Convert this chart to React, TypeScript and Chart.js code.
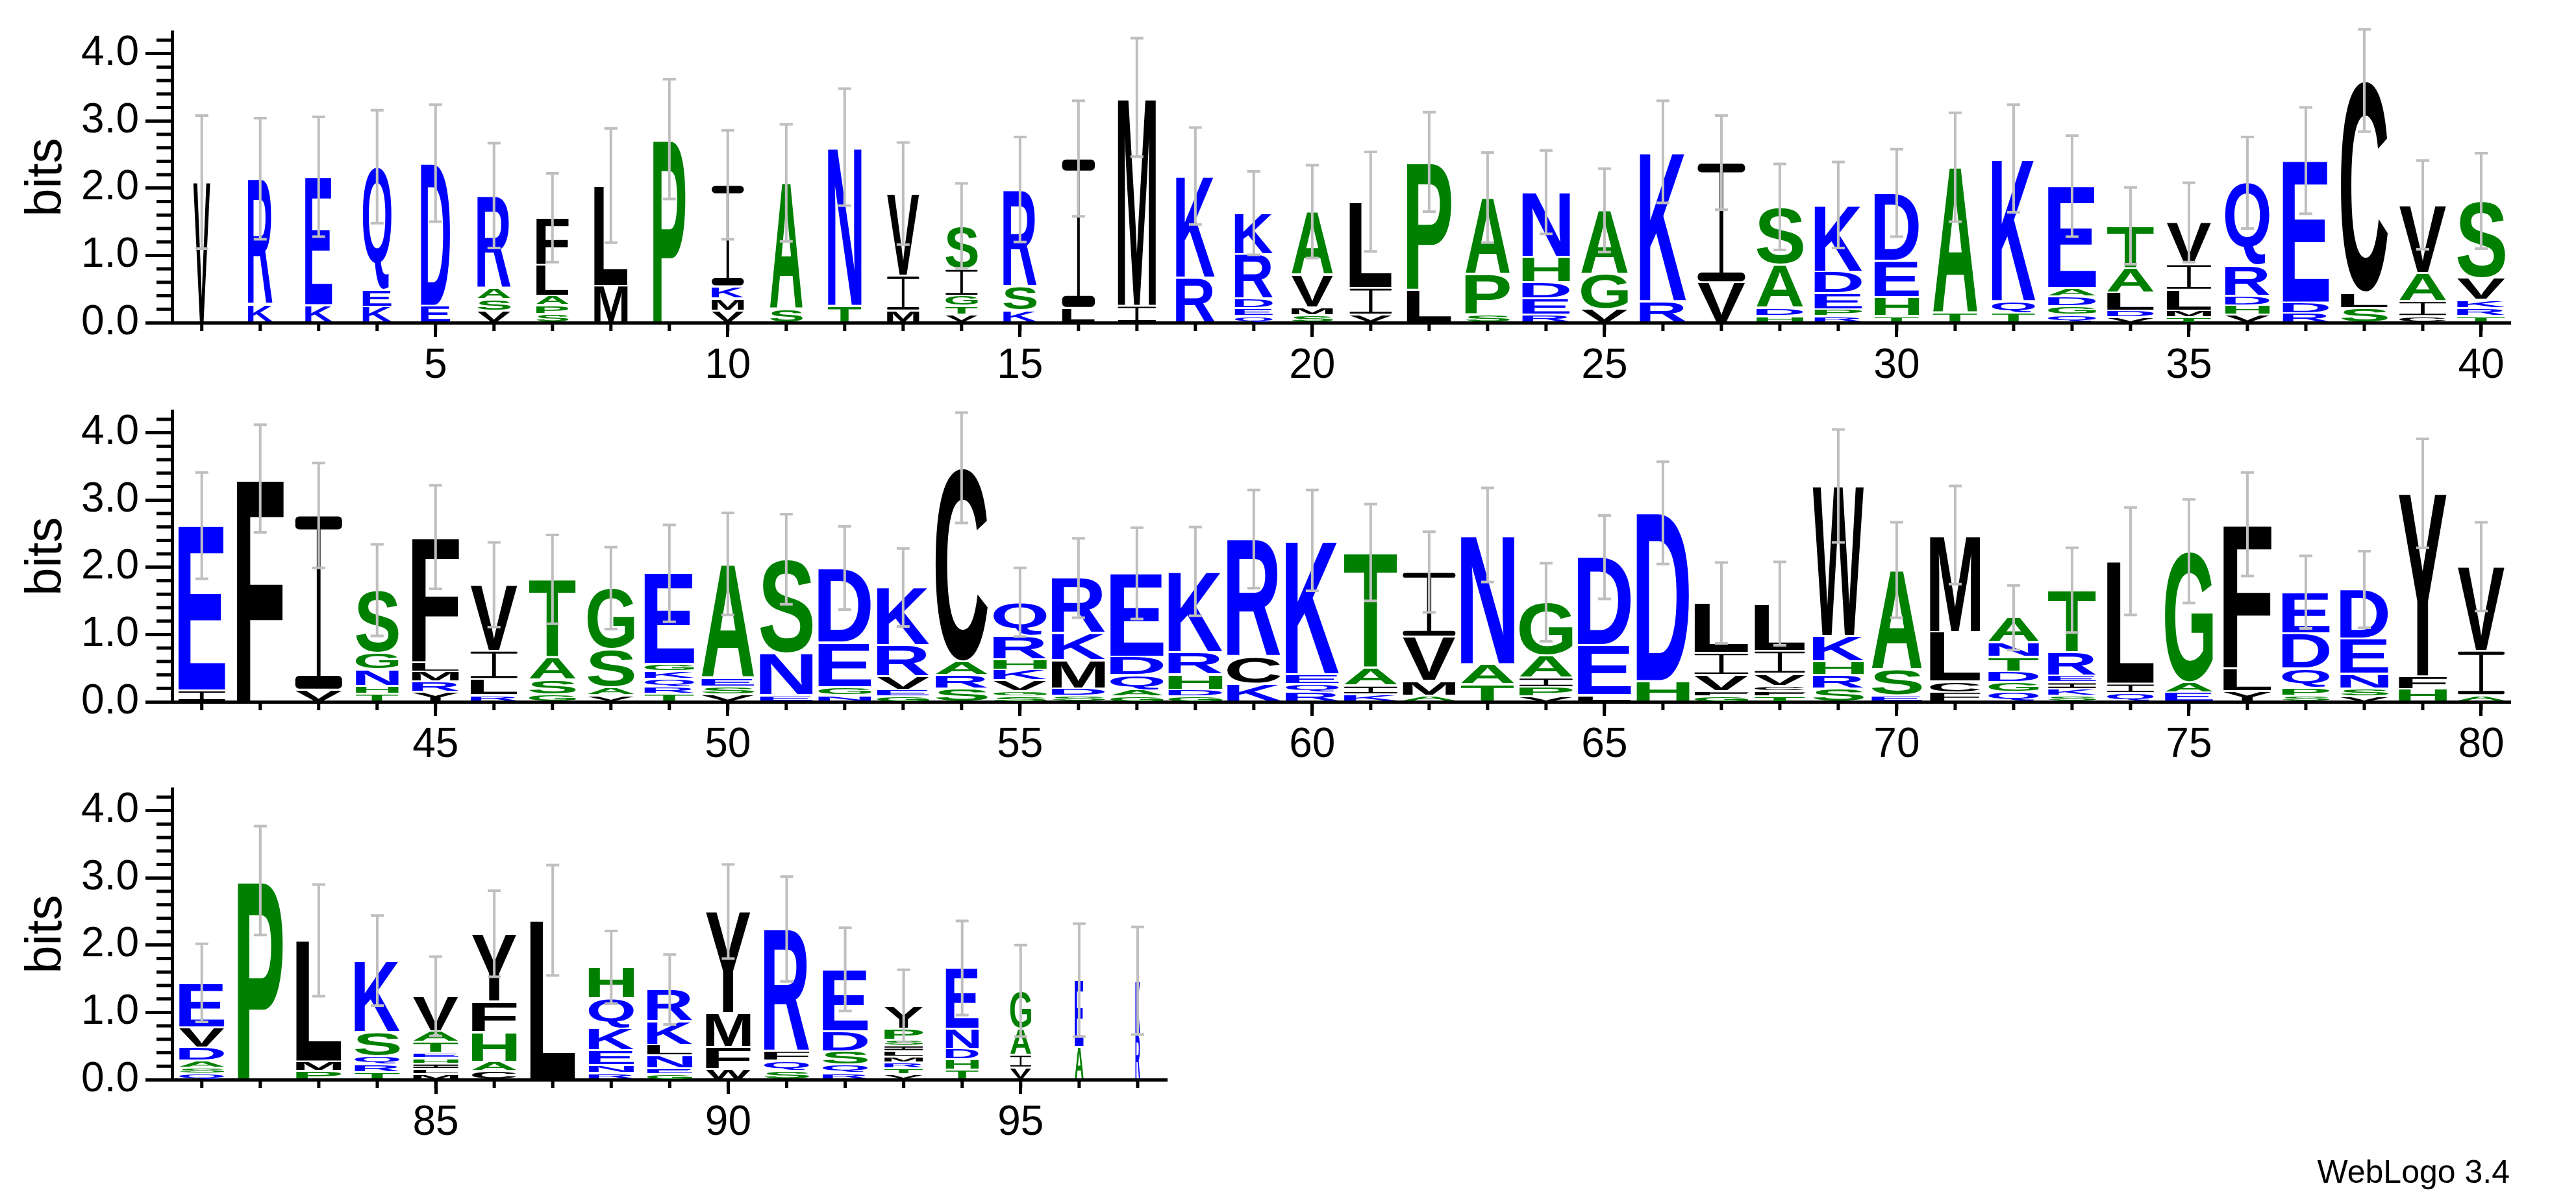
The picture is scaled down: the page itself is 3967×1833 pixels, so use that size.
import React, { useEffect, useRef } from "react";
import { Chart, registerables } from "chart.js";

Chart.register(...registerables);

// ---------- DATA ----------
const positions: number[] = [
  1, 2, 3, 4, 5, 6, 7, 8, 9, 10, 11, 12, 13, 14, 15, 16, 17, 18, 19, 20,
  21, 22, 23, 24, 25, 26, 27, 28, 29, 30, 31, 32, 33, 34, 35, 36, 37, 38, 39, 40,
  41, 42, 43, 44, 45, 46, 47, 48, 49, 50, 51, 52, 53, 54, 55, 56, 57, 58, 59, 60,
  61, 62, 63, 64, 65, 66, 67, 68, 69, 70, 71, 72, 73, 74, 75, 76, 77, 78, 79, 80,
  81, 82, 83, 84, 85, 86, 87, 88, 89, 90, 91, 92, 93, 94, 95, 96, 97,
];

// letters of each column, bottom to top
const stackLetters: string[] = [
  "V", "KR", "KE", "KEQ", "ED", "VSAR", "SPALF", "ML", "P", "VMKI",
  "SA", "TN", "MIV", "VTGIS", "KSR", "LI", "IM", "RK", "QEDRK", "SMVA",
  "VIL", "LP", "SPA", "REDHN", "VGA", "RK", "VI", "HDAS", "RPEDK", "THED",
  "TA", "TQK", "QGDAE", "VDLAT", "TMLIV", "VHDRQ", "RDE", "SLC", "CIAV", "TRKVS",
  "IE", "F", "VI", "THNGS", "YRMLF", "RLIV", "GSAT", "VASG", "TRQKGE", "VSEA",
  "ENS", "NGED", "GEVRK", "SRAC", "SGVKHRQ", "SDMKR", "GAQDE", "GDHRK", "KCR", "RQEK",
  "KIAT", "AMVI", "TAN", "VPIAG", "LED", "HD", "GFVIL", "TFCVIL", "SRHKW", "ESA",
  "FCLM", "QGDTNA", "SKIERT", "QIL", "EAG", "YLF", "SPQDE", "VSNED", "HFY", "AIV",
  "QSADVE", "P", "PML", "TRQSK", "MLIHETAV", "CAHFY", "L", "RNEKQH", "GENLKR", "WFMY",
  "SQFR", "RQSDE", "VTRMLISPY", "THDNE", "VIAG", "AE", "RK",
];

// bits of each letter, bottom to top
const stackHeights: number[][] = [
  [2.09], [0.27, 1.87], [0.26, 1.91], [0.24, 0.25, 1.83], [0.25, 2.12],
  [0.18, 0.17, 0.17, 1.37], [0.13, 0.13, 0.14, 0.46, 0.7], [0.55, 1.49], [2.73], [0.18, 0.18, 0.18, 1.51],
  [0.2, 1.88], [0.25, 2.36], [0.18, 0.52, 1.22], [0.12, 0.13, 0.15, 0.4, 0.64], [0.18, 0.36, 1.44],
  [0.22, 2.22], [0.25, 3.1], [0.67, 1.51], [0.1, 0.12, 0.14, 0.66, 0.61], [0.11, 0.12, 0.48, 0.94],
  [0.12, 0.4, 1.28], [0.49, 1.9], [0.12, 0.6, 1.14], [0.12, 0.24, 0.24, 0.38, 0.96], [0.2, 0.52, 0.95],
  [0.32, 2.22], [0.6, 1.78], [0.1, 0.12, 0.64, 0.86], [0.1, 0.1, 0.24, 0.32, 0.99], [0.1, 0.28, 0.54, 1.01],
  [0.14, 2.17], [0.14, 0.18, 2.12], [0.12, 0.13, 0.14, 0.13, 1.51], [0.08, 0.1, 0.27, 0.37, 0.62], [0.08, 0.1, 0.31, 0.38, 0.62],
  [0.12, 0.14, 0.14, 0.45, 1.23], [0.14, 0.16, 2.11], [0.22, 0.23, 3.15], [0.1, 0.22, 0.42, 1.01], [0.1, 0.12, 0.12, 0.32, 1.15],
  [0.17, 2.45], [3.32], [0.18, 2.59], [0.12, 0.12, 0.24, 0.25, 0.93], [0.15, 0.15, 0.15, 0.14, 1.86],
  [0.1, 0.24, 0.42, 0.98], [0.11, 0.22, 0.33, 1.16], [0.1, 0.12, 0.56, 0.91], [0.12, 0.1, 0.12, 0.12, 0.1, 1.35], [0.11, 0.12, 0.13, 1.69],
  [0.1, 0.62, 1.4], [0.1, 0.12, 0.66, 1.11], [0.08, 0.1, 0.2, 0.46, 0.86], [0.2, 0.2, 0.2, 2.88], [0.08, 0.08, 0.16, 0.16, 0.15, 0.35, 0.5],
  [0.09, 0.11, 0.42, 0.4, 0.82], [0.08, 0.1, 0.22, 0.27, 1.24], [0.08, 0.1, 0.23, 0.33, 1.2], [0.27, 0.4, 1.75], [0.14, 0.13, 0.14, 1.99],
  [0.11, 0.13, 0.27, 1.71], [0.09, 0.22, 0.66, 0.96], [0.26, 0.3, 1.92], [0.08, 0.14, 0.14, 0.33, 0.79], [0.1, 0.74, 1.31],
  [0.31, 2.5], [0.08, 0.08, 0.24, 0.33, 0.74], [0.08, 0.08, 0.08, 0.18, 0.34, 0.7], [0.2, 0.2, 0.2, 0.38, 2.23], [0.1, 0.38, 1.48],
  [0.14, 0.16, 0.74, 1.44], [0.15, 0.14, 0.16, 0.22, 0.22, 0.36], [0.09, 0.1, 0.1, 0.1, 0.35, 0.92], [0.13, 0.14, 1.82], [0.14, 0.15, 1.95],
  [0.16, 0.34, 2.14], [0.09, 0.12, 0.29, 0.52, 0.61], [0.08, 0.12, 0.22, 0.52, 0.73], [0.19, 0.19, 2.72], [0.1, 0.66, 1.25],
  [0.09, 0.09, 0.1, 0.2, 0.3, 0.66], [2.96], [0.13, 0.14, 1.8], [0.11, 0.12, 0.12, 0.36, 1.06], [0.08, 0.08, 0.08, 0.08, 0.08, 0.16, 0.16, 0.52],
  [0.13, 0.14, 0.44, 0.45, 1.01], [2.37], [0.1, 0.12, 0.22, 0.33, 0.44, 0.46], [0.08, 0.09, 0.19, 0.16, 0.35, 0.47], [0.16, 0.33, 0.5, 1.51],
  [0.14, 0.14, 0.14, 1.82], [0.1, 0.12, 0.2, 0.3, 0.92], [0.085, 0.085, 0.085, 0.085, 0.085, 0.085, 0.085, 0.16, 0.34], [0.15, 0.15, 0.16, 0.3, 0.9], [0.18, 0.19, 0.39, 0.56],
  [0.49, 0.99], [0.68, 0.79],
];

// visible stack width as a fraction of the column spacing
const columnWidths: number[] = [
  0.29, 0.42, 0.46, 0.49, 0.5, 0.57, 0.55, 0.57, 0.55, 0.55,
  0.56, 0.57, 0.55, 0.55, 0.57, 0.56, 0.65, 0.66, 0.65, 0.71,
  0.72, 0.76, 0.76, 0.81, 0.8, 0.79, 0.81, 0.8, 0.81, 0.76,
  0.76, 0.74, 0.82, 0.8, 0.76, 0.76, 0.79, 0.8, 0.8, 0.82,
  0.8, 0.8, 0.8, 0.73, 0.8, 0.8, 0.8, 0.8, 0.85, 0.9,
  0.9, 0.9, 0.89, 0.89, 0.91, 0.91, 0.91, 0.92, 0.91, 0.91,
  0.91, 0.9, 0.91, 0.91, 0.91, 0.9, 0.92, 0.86, 0.87, 0.86,
  0.86, 0.86, 0.82, 0.8, 0.82, 0.82, 0.81, 0.82, 0.82, 0.8,
  0.77, 0.77, 0.77, 0.77, 0.77, 0.76, 0.77, 0.77, 0.77, 0.76,
  0.77, 0.77, 0.66, 0.56, 0.36, 0.15, 0.08,
];

// half length of the error bar (bits)
const errorHalf: number[] = [
  0.99, 0.9, 0.89, 0.84, 0.87, 0.78, 0.66, 0.85, 0.89, 0.81,
  0.87, 0.87, 0.76, 0.63, 0.78, 0.86, 0.88, 0.72, 0.62, 0.69,
  0.74, 0.74, 0.67, 0.62, 0.62, 0.76, 0.7, 0.64, 0.64, 0.65,
  0.81, 0.8, 0.75, 0.57, 0.59, 0.68, 0.79, 0.76, 0.66, 0.71,
  0.79, 0.8, 0.78, 0.68, 0.77, 0.63, 0.66, 0.61, 0.72, 0.76,
  0.67, 0.62, 0.58, 0.82, 0.51, 0.59, 0.68, 0.66, 0.73, 0.75,
  0.72, 0.6, 0.7, 0.58, 0.62, 0.76, 0.6, 0.62, 0.84, 0.71,
  0.73, 0.48, 0.63, 0.8, 0.77, 0.77, 0.54, 0.57, 0.81, 0.66,
  0.58, 0.81, 0.83, 0.67, 0.59, 0.64, 0.82, 0.54, 0.52, 0.7,
  0.78, 0.62, 0.54, 0.7, 0.68, 0.84, 0.8,
];

const rowFirst: number[] = [1, 41, 81];
const rowLast: number[] = [40, 80, 97];
const xTickLabels: number[][] = [
  [5, 10, 15, 20, 25, 30, 35, 40],
  [45, 50, 55, 60, 65, 70, 75, 80],
  [85, 90, 95],
];
const yTickValues: number[] = [0, 1, 2, 3, 4];
const yMinorTickValues: number[] = [
  0.2, 0.4, 0.6, 0.8, 1.2, 1.4, 1.6, 1.8, 2.2, 2.4, 2.6, 2.8, 3.2, 3.4, 3.6, 3.8, 4.2,
];
const yMax = 4.3219; // log2(20)
const yTitle = "bits";
const footer = "WebLogo 3.4";

// ---------- STYLE ----------
const FONT = "'Liberation Sans', Arial, Helvetica, sans-serif";
const BLUE = "#0000ff";
const GREEN = "#008000";
const BLACK = "#000000";
const ERR_COLOR = "#bfbfbf";

function colorOf(ch: string): string {
  if ("RKDENQ".includes(ch)) return BLUE;
  if ("SGHTAP".includes(ch)) return GREEN;
  return BLACK;
}

const metricsCache = new Map<string, { l: number; a: number; w: number; h: number }>();

function roundedBar(ctx: CanvasRenderingContext2D, x: number, y: number, w: number, h: number) {
  const r = Math.min(h / 2, w / 2, 6);
  ctx.beginPath();
  if ((ctx as any).roundRect) {
    (ctx as any).roundRect(x, y, w, h, r);
  } else {
    ctx.rect(x, y, w, h);
  }
  ctx.fill();
}

function drawGlyph(ctx: CanvasRenderingContext2D, ch: string, x: number, y: number, w: number, h: number) {
  if (h <= 0.5 || w <= 0.5) return;
  const inset = h > 8 ? 1.5 : 0.5;
  const top = y + inset;
  const hh = h - 2 * inset;
  ctx.save();
  ctx.fillStyle = colorOf(ch);
  if (ch === "I") {
    // serif I as drawn by WebLogo: two bars and a thin stem
    const barH = Math.max(2, hh * 0.075);
    const stemW = Math.max(2, w * 0.08);
    roundedBar(ctx, x, top, w, barH);
    roundedBar(ctx, x, top + hh - barH, w, barH);
    ctx.fillRect(x + w / 2 - stemW / 2, top + barH - 0.5, stemW, hh - 2 * barH + 1);
    ctx.restore();
    return;
  }
  ctx.font = `bold 200px ${FONT}`;
  let m = metricsCache.get(ch);
  if (!m) {
    const mm = ctx.measureText(ch);
    m = {
      l: mm.actualBoundingBoxLeft,
      a: mm.actualBoundingBoxAscent,
      w: mm.actualBoundingBoxLeft + mm.actualBoundingBoxRight,
      h: mm.actualBoundingBoxAscent + mm.actualBoundingBoxDescent,
    };
    metricsCache.set(ch, m);
  }
  ctx.translate(x, top);
  ctx.scale(w / m.w, hh / m.h);
  ctx.textAlign = "left";
  ctx.textBaseline = "alphabetic";
  ctx.fillText(ch, m.l, m.a);
  ctx.restore();
}

const ROW_CANVAS_H = 600;
const X_AXIS_H = 103;
const Y_AXIS_W = 265;
const CHART_TOP_PAD = 49.3;

function LogoRow({ row, top, padRight }: { row: number; top: number; padRight: number }) {
  const ref = useRef<HTMLCanvasElement | null>(null);

  useEffect(() => {
    const canvas = ref.current;
    if (!canvas) return;
    const first = rowFirst[row];
    const last = rowLast[row];
    const cols = positions.filter((p) => p >= first && p <= last);
    const depth = Math.max(...cols.map((p) => stackLetters[p - 1].length));

    const datasets: any[] = [];
    for (let d = 0; d < depth; d++) {
      datasets.push({
        label: `level ${d}`,
        data: cols.map((p) => ({ x: p, y: stackHeights[p - 1][d] ?? 0 })),
        backgroundColor: "rgba(0,0,0,0)",
        borderWidth: 0,
        barPercentage: 1,
        categoryPercentage: 1,
      });
    }

    const logoPlugin = {
      id: "logoLetters",
      afterDatasetsDraw(chart: any) {
        const ctx: CanvasRenderingContext2D = chart.ctx;
        const xs = chart.scales.x;
        const ys = chart.scales.y;
        const spacing = xs.getPixelForValue(first + 1) - xs.getPixelForValue(first);
        for (let d = 0; d < depth; d++) {
          const meta = chart.getDatasetMeta(d);
          meta.data.forEach((el: any, i: number) => {
            const p = cols[i];
            const ch = stackLetters[p - 1][d];
            if (!ch) return;
            const w = spacing * columnWidths[p - 1];
            drawGlyph(ctx, ch, el.x - w / 2, el.y, w, el.base - el.y);
          });
        }
        // error bars
        ctx.save();
        ctx.strokeStyle = ERR_COLOR;
        ctx.lineWidth = 4;
        ctx.lineCap = "butt";
        cols.forEach((p) => {
          const total = stackHeights[p - 1].reduce((a, b) => a + b, 0);
          const e = errorHalf[p - 1];
          const cx = xs.getPixelForValue(p);
          const yT = ys.getPixelForValue(total + e);
          const yB = ys.getPixelForValue(total - e);
          ctx.beginPath();
          ctx.moveTo(cx, yT);
          ctx.lineTo(cx, yB);
          ctx.moveTo(cx - 10, yT);
          ctx.lineTo(cx + 10, yT);
          ctx.moveTo(cx - 10, yB);
          ctx.lineTo(cx + 10, yB);
          ctx.stroke();
        });
        ctx.restore();
      },
      afterDraw(chart: any) {
        const ctx: CanvasRenderingContext2D = chart.ctx;
        const xs = chart.scales.x;
        const ys = chart.scales.y;
        const area = chart.chartArea;
        ctx.save();
        ctx.strokeStyle = BLACK;
        ctx.lineWidth = 5;
        // minor x ticks (every column)
        cols.forEach((p) => {
          const px = xs.getPixelForValue(p);
          ctx.beginPath();
          ctx.moveTo(px, area.bottom);
          ctx.lineTo(px, area.bottom + 13);
          ctx.stroke();
        });
        // minor y ticks
        yMinorTickValues.forEach((v) => {
          const py = ys.getPixelForValue(v);
          ctx.beginPath();
          ctx.moveTo(area.left - 24, py);
          ctx.lineTo(area.left, py);
          ctx.stroke();
        });
        ctx.restore();
      },
    };

    const chart = new Chart(canvas, {
      type: "bar",
      data: { datasets },
      plugins: [logoPlugin],
      options: {
        animation: false,
        responsive: false,
        maintainAspectRatio: false,
        events: [],
        layout: { padding: { top: CHART_TOP_PAD, right: padRight, left: 0, bottom: 0 } },
        plugins: { legend: { display: false }, tooltip: { enabled: false }, title: { display: false } },
        scales: {
          x: {
            type: "linear",
            stacked: true,
            offset: false,
            min: first - 0.508,
            max: last + 0.5,
            afterBuildTicks: (s: any) => {
              s.ticks = xTickLabels[row].map((v) => ({ value: v }));
            },
            afterFit: (s: any) => {
              s.height = X_AXIS_H;
            },
            grid: {
              display: true,
              drawOnChartArea: false,
              drawTicks: true,
              tickLength: 22,
              tickWidth: 5,
              tickColor: BLACK,
              offset: false,
            },
            border: { display: true, width: 5, color: BLACK },
            ticks: {
              autoSkip: false,
              maxRotation: 0,
              minRotation: 0,
              padding: 7,
              color: BLACK,
              font: { family: FONT, size: 64 },
              callback: (v: any) => String(v),
            },
          },
          y: {
            type: "linear",
            stacked: true,
            min: 0,
            max: yMax,
            afterBuildTicks: (s: any) => {
              s.ticks = yTickValues.map((v) => ({ value: v }));
            },
            afterFit: (s: any) => {
              s.width = Y_AXIS_W;
            },
            grid: {
              display: true,
              drawOnChartArea: false,
              drawTicks: true,
              tickLength: 41,
              tickWidth: 5,
              tickColor: BLACK,
            },
            border: { display: true, width: 5, color: BLACK },
            ticks: {
              padding: 10,
              color: BLACK,
              font: { family: FONT, size: 64 },
              callback: (v: any) => Number(v).toFixed(1),
            },
            title: {
              display: true,
              text: yTitle,
              color: BLACK,
              font: { family: FONT, size: 78 },
              padding: { top: 26, bottom: 0 },
            },
          },
        },
      } as any,
    });
    return () => chart.destroy();
  }, [row, padRight]);

  return (
    <canvas
      ref={ref}
      width={3967}
      height={ROW_CANVAS_H}
      style={{ position: "absolute", left: 0, top, width: 3967, height: ROW_CANVAS_H }}
    />
  );
}

export default function App() {
  return (
    <div
      style={{
        position: "absolute",
        left: 0,
        top: 0,
        width: 3967,
        height: 1833,
        background: "#ffffff",
        overflow: "hidden",
      }}
    >
      <LogoRow row={0} top={0} padRight={101} />
      <LogoRow row={1} top={584} padRight={101} />
      <LogoRow row={2} top={1166} padRight={2170} />
      <div
        style={{
          position: "absolute",
          right: 102,
          top: 1780,
          fontFamily: FONT,
          fontSize: 50,
          lineHeight: "50px",
          color: BLACK,
          whiteSpace: "nowrap",
        }}
      >
        {footer}
      </div>
    </div>
  );
}
